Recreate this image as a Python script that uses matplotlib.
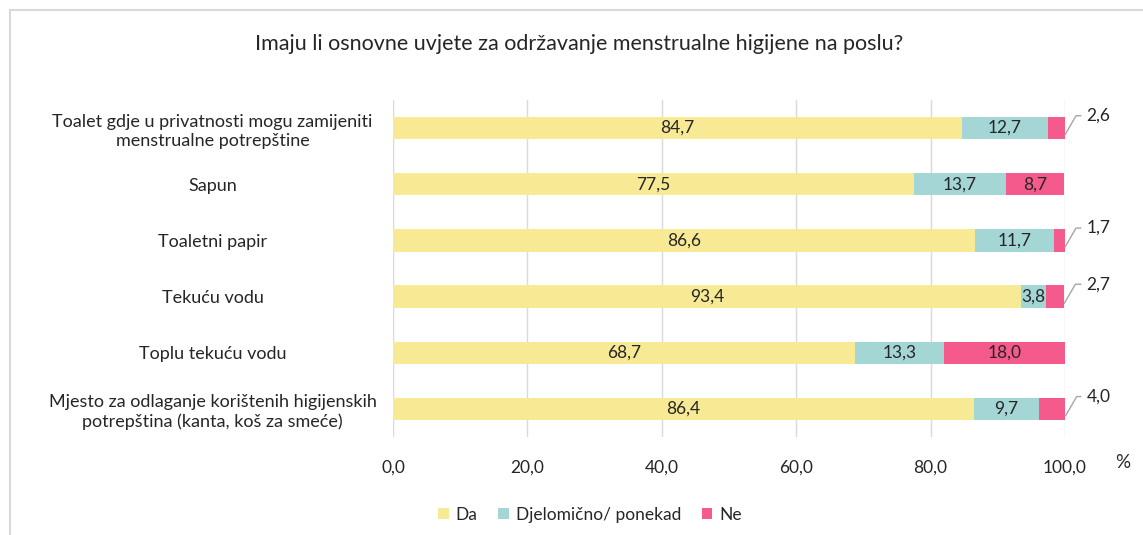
import matplotlib
matplotlib.use("Agg")
import matplotlib.pyplot as plt
from matplotlib.patches import Rectangle

categories = [
    "Toalet gdje u privatnosti mogu zamijeniti\nmenstrualne potrepštine",
    "Sapun",
    "Toaletni papir",
    "Tekuću vodu",
    "Toplu tekuću vodu",
    "Mjesto za odlaganje korištenih higijenskih\npotrepština (kanta, koš za smeće)",
]
da = [84.7, 77.5, 86.6, 93.4, 68.7, 86.4]
djelomicno = [12.7, 13.7, 11.7, 3.8, 13.3, 9.7]
ne = [2.6, 8.7, 1.7, 2.7, 18.0, 4.0]
series_names = ["Da", "Djelomično/ ponekad", "Ne"]
colors = ["#F8E995", "#A5D6D6", "#F55A8C"]
xticks = [0, 20, 40, 60, 80, 100]

plt.rcParams['font.family'] = ['Lato', 'DejaVu Sans']
FS = 12.5
TXT = "#262626"

fig = plt.figure(figsize=(11.43, 5.35), dpi=100)
fig.patches.append(Rectangle((10/1143, -0.1), 1.2, 1 - 10/535 + 0.1,
                             transform=fig.transFigure, fill=False,
                             edgecolor="#D9D9D9", linewidth=1.5))
ax = fig.add_axes([393/1143, 1 - 437/535, (1065-393)/1143, 337/535])

y = list(range(len(categories)))
h = 0.4
lefts = [0]*len(categories)
data = [da, djelomicno, ne]
for s, (vals, col, name) in enumerate(zip(data, colors, series_names)):
    ax.barh(y, vals, left=lefts, height=h, color=col, label=name, zorder=3)
    for i, (v, l) in enumerate(zip(vals, lefts)):
        txt = f"{v:.1f}".replace(".", ",")
        outside = (s == 2 and v < 5)
        if not outside:
            ax.text(l + v/2, i, txt, ha="center", va="center", fontsize=FS,
                    color=TXT, zorder=4)
        else:
            ax.annotate(txt, xy=(l + v, i + 0.12), xytext=(103.2, i - 0.22),
                        textcoords="data", ha="left", va="center",
                        fontsize=FS, color=TXT, annotation_clip=False,
                        arrowprops=dict(arrowstyle="-", color="#A6A6A6", lw=1,
                                        connectionstyle="angle,angleA=0,angleB=60,rad=0",
                                        shrinkA=2, shrinkB=0))
    lefts = [a + b for a, b in zip(lefts, vals)]

ax.set_ylim(len(categories) - 0.5, -0.5)
ax.set_xlim(0, 100)
ax.set_yticks(y)
ax.set_yticklabels(categories, fontsize=13, color=TXT, ha="center", linespacing=1.25)
ax.tick_params(axis="y", pad=130, length=0)
ax.set_xticks(xticks)
ax.set_xticklabels([f"{v:.1f}".replace(".", ",") for v in xticks], fontsize=FS, color=TXT)
ax.tick_params(axis="x", length=0, pad=16)
ax.grid(axis="x", color="#D9D9D9", linewidth=1, zorder=0)
for sp in ax.spines.values():
    sp.set_visible(False)

fig.text(1123/1143, 1 - 463/535, "%", ha="center", va="center", fontsize=13.5, color=TXT)
fig.text(579/1143, 1 - 44/535, "Imaju li osnovne uvjete za održavanje menstrualne higijene na poslu?",
         ha="center", va="center", fontsize=15.5, color=TXT)

leg = fig.legend(loc="center", bbox_to_anchor=(590/1143, 1 - 515/535), ncol=3, frameon=False,
                 fontsize=FS, handlelength=0.6, handleheight=0.6, handletextpad=0.4,
                 columnspacing=1.2)
for t in leg.get_texts():
    t.set_color(TXT)

fig.savefig("out.png", dpi=100)
